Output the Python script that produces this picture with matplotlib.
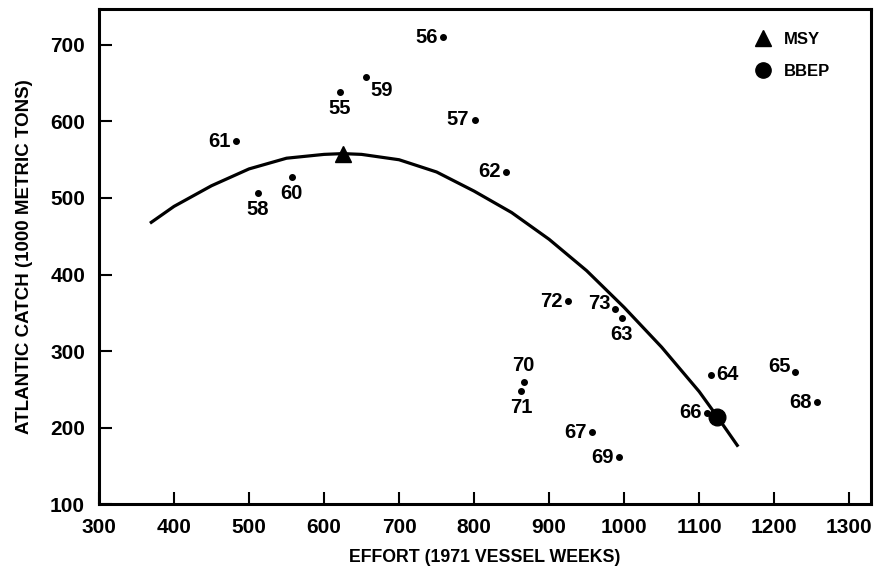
import matplotlib
matplotlib.use("Agg")
import matplotlib.pyplot as plt
from matplotlib.lines import Line2D

# yearly observations (1955-1973): effort in 1971 vessel weeks, catch in 1000 t
years = ["55", "56", "57", "58", "59", "60", "61", "62", "63", "64",
         "65", "66", "67", "68", "69", "70", "71", "72", "73"]
effort = [621, 759, 801, 512, 656, 557, 483, 843, 997, 1116,
          1228, 1111, 957, 1257, 993, 866, 863, 925, 988]
catch = [638, 710, 602, 506, 658, 527, 574, 534, 343, 269,
         273, 219, 194, 233, 161, 259, 248, 365, 355]
# where each label sits relative to its dot
label_side = ["b", "l", "l", "b", "br", "b", "l", "l", "b", "r",
              "lu", "l", "l", "l", "l", "t", "b", "l", "lu"]

# fitted production curve
curve_effort = [368, 400, 450, 500, 550, 600, 625, 650, 700, 750, 800,
                850, 900, 950, 1000, 1050, 1100, 1125, 1152]
curve_catch = [467, 489, 516, 538, 552, 557, 558, 557, 550, 534, 509,
               481, 446, 405, 357, 305, 247, 213, 175]

msy = (625, 557)
bbep = (1124, 214)

plt.rcParams["font.family"] = ["Liberation Sans", "DejaVu Sans"]
plt.rcParams["font.weight"] = "bold"

fig = plt.figure(figsize=(8.82, 5.71), dpi=100)
ax = fig.add_axes([0.1122, 0.1173, 0.8753, 0.8669])

ax.plot(curve_effort, curve_catch, color="black", lw=2.3,
        solid_capstyle="butt", solid_joinstyle="round")
ax.plot(effort, catch, "o", color="black", ms=4)
ax.plot(*msy, marker="^", color="black", ms=11, ls="none")
ax.plot(*bbep, marker="o", color="black", ms=12, ls="none")

offsets = {
    "l": ((-4, 0), "right", "center"),
    "lu": ((-3, 4), "right", "center"),
    "r": ((4, 0), "left", "center"),
    "b": ((0, -5), "center", "top"),
    "br": ((3, -3), "left", "top"),
    "t": ((0, 5), "center", "bottom"),
}
for yr, x, y, side in zip(years, effort, catch, label_side):
    off, ha, va = offsets[side]
    ax.annotate(yr, (x, y), xytext=off, textcoords="offset points",
                ha=ha, va=va, fontsize=14.5, fontweight="bold")

handles = [
    Line2D([], [], marker="^", color="black", ls="none", ms=11),
    Line2D([], [], marker="o", color="black", ls="none", ms=11),
]
ax.legend(handles, ["MSY", "BBEP"], loc="upper right", frameon=False,
          bbox_to_anchor=(0.966, 0.984), handletextpad=0.45, handlelength=1.6,
          labelspacing=1.0, prop={"size": 12, "weight": "bold"})

ax.set_xlim(300, 1329)
ax.set_ylim(100, 747)
ax.set_xticks(range(300, 1301, 100))
ax.set_yticks(range(100, 701, 100))
ax.tick_params(direction="in", length=9, width=1.5, pad=10, labelsize=15)
for lbl in ax.get_xticklabels() + ax.get_yticklabels():
    lbl.set_fontweight("bold")
for sp in ax.spines.values():
    sp.set_linewidth(2.2)

ax.set_xlabel("EFFORT (1971 VESSEL WEEKS)", fontsize=12.8, fontweight="bold",
              labelpad=9)
ax.set_ylabel("ATLANTIC CATCH (1000 METRIC TONS)", fontsize=13.5,
              fontweight="bold", labelpad=12)

fig.savefig("out.png", dpi=100)
